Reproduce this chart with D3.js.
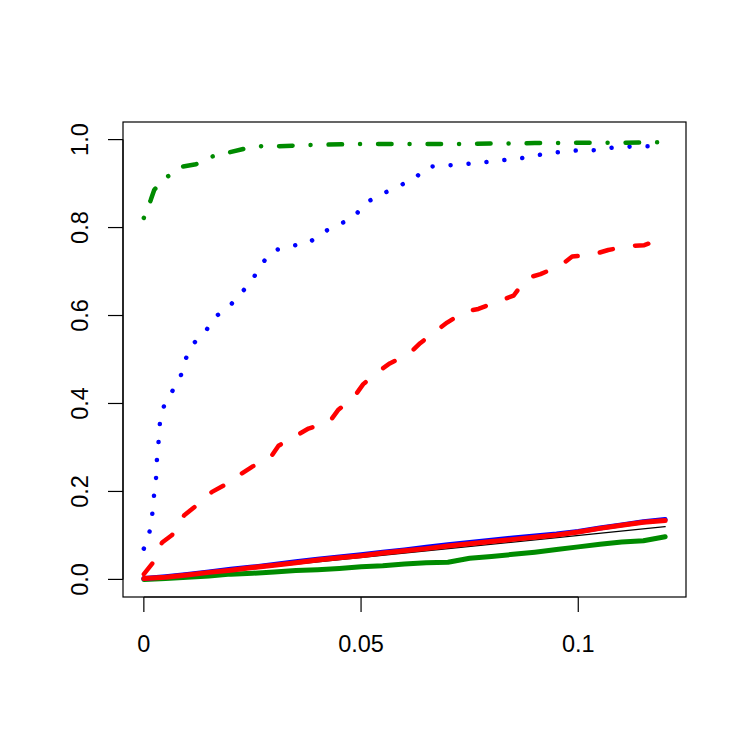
<!DOCTYPE html>
<meta charset="utf-8">
<title>power curves</title>
<style>
  body { margin: 0; background: #fff; }
  text { font-family: "Liberation Sans", Arial, sans-serif; font-size: 23.5px; fill: #000; }
</style>
<svg width="750" height="750"></svg>
<script src="https://cdn.jsdelivr.net/npm/d3@7"></script>
<script>
  // grid for the solid lines
  var xGrid = [0, 0.005, 0.01, 0.015, 0.02, 0.025, 0.03, 0.035, 0.04, 0.045, 0.05, 0.055, 0.06,
               0.065, 0.07, 0.075, 0.08, 0.085, 0.09, 0.095, 0.1, 0.105, 0.11, 0.115, 0.12];
  var blueSolid = [0.002, 0.006, 0.011, 0.017, 0.023, 0.028, 0.034, 0.040, 0.046, 0.051, 0.056, 0.062, 0.067,
                   0.073, 0.079, 0.084, 0.089, 0.094, 0.099, 0.103, 0.109, 0.117, 0.124, 0.131, 0.136];
  var redSolid  = [0.002, 0.005, 0.010, 0.016, 0.021, 0.027, 0.032, 0.038, 0.044, 0.049, 0.054, 0.060, 0.065,
                   0.070, 0.076, 0.081, 0.086, 0.091, 0.096, 0.101, 0.108, 0.116, 0.123, 0.130, 0.134];
  var greenSolid = [0, 0.002, 0.005, 0.008, 0.012, 0.014, 0.017, 0.020, 0.022, 0.025, 0.029, 0.031, 0.035,
                    0.038, 0.039, 0.048, 0.052, 0.057, 0.062, 0.068, 0.074, 0.080, 0.085, 0.088, 0.097];

  // broken lines, read point by point
  var blueDotX = [0, 0.0012, 0.0019, 0.0023, 0.0028, 0.003, 0.0034, 0.0037, 0.0047, 0.0066, 0.0085, 0.0096,
                  0.0114, 0.0142, 0.0164, 0.0195, 0.0223, 0.0248, 0.027, 0.0297, 0.0336, 0.0378, 0.041, 0.0447,
                  0.0483, 0.051, 0.0546, 0.0583, 0.0622, 0.0651, 0.0695, 0.0738, 0.078, 0.0824, 0.0865, 0.0909,
                  0.0951, 0.0994, 0.1036, 0.108, 0.1122, 0.1166, 0.12];
  var blueDotY = [0.07, 0.102, 0.144, 0.187, 0.229, 0.271, 0.314, 0.356, 0.397, 0.429, 0.463, 0.501,
                  0.536, 0.564, 0.597, 0.619, 0.65, 0.678, 0.716, 0.747, 0.758, 0.764, 0.788, 0.806,
                  0.823, 0.856, 0.875, 0.893, 0.91, 0.938, 0.941, 0.944, 0.948, 0.953, 0.957, 0.965,
                  0.971, 0.975, 0.976, 0.982, 0.984, 0.985, 0.99];
  var redDashX = [0, 0.002, 0.0042, 0.0065, 0.0093, 0.0116, 0.0157, 0.0183, 0.0224, 0.0249, 0.0292, 0.031,
                  0.0353, 0.0379, 0.0428, 0.0447, 0.0484, 0.0505, 0.0543, 0.0566, 0.0612, 0.0636, 0.0674,
                  0.0698, 0.074, 0.077, 0.0817, 0.0851, 0.0881, 0.0913, 0.0958, 0.0986, 0.1035, 0.1069,
                  0.1116, 0.1152, 0.1198, 0.12];
  var redDashY = [0.012, 0.037, 0.084, 0.101, 0.146, 0.164, 0.199, 0.213, 0.24, 0.256, 0.278, 0.304,
                  0.328, 0.343, 0.359, 0.385, 0.415, 0.444, 0.475, 0.491, 0.514, 0.537, 0.566,
                  0.584, 0.609, 0.615, 0.633, 0.645, 0.685, 0.694, 0.713, 0.734, 0.739, 0.749,
                  0.758, 0.76, 0.776, 0.783];
  var greenDashX = [0, 0.0016, 0.0024, 0.0052, 0.0085, 0.012, 0.0155, 0.0197, 0.023, 0.027, 0.031, 0.039,
                    0.05, 0.06, 0.07, 0.08, 0.09, 0.1, 0.11, 0.12];
  var greenDashY = [0.822, 0.863, 0.886, 0.914, 0.938, 0.944, 0.961, 0.971, 0.979, 0.985, 0.985, 0.988,
                    0.99, 0.99, 0.99, 0.991, 0.992, 0.993, 0.993, 0.994];

  var xTicks = [0, 0.05, 0.1];
  var xTickLabels = ["0", "0.05", "0.1"];
  var yTicks = [0, 0.2, 0.4, 0.6, 0.8, 1.0];
  var yTickLabels = ["0.0", "0.2", "0.4", "0.6", "0.8", "1.0"];

  //begin: layout conf.
  var svg = d3.select("svg"),
      box = {left: 123, right: 686, top: 122, bottom: 597},
      u = 4.5; // R line width unit used for dash patterns
  //end: layout conf.

  // R pads the data range by 4% on both sides
  var x = d3.scaleLinear().domain([-0.0048, 0.1248]).range([box.left, box.right]);
  var y = d3.scaleLinear().domain([-0.04, 1.04]).range([box.bottom, box.top]);

  function zip(xs, ys) { return xs.map(function(d, i) { return [d, ys[i]]; }); }

  var line = d3.line()
      .x(function(d) { return x(d[0]); })
      .y(function(d) { return y(d[1]); });

  var series = [
    {pts: [[0, 0], [0.12, 0.12]], color: "#000", width: 1.3, dash: null},
    {pts: zip(xGrid, greenSolid), color: "#008b00", width: 5, dash: null},
    {pts: zip(xGrid, blueSolid), color: "#0000ff", width: 5, dash: null},
    {pts: zip(xGrid, redSolid), color: "#ff0000", width: 5, dash: null},
    {pts: zip(blueDotX, blueDotY), color: "#0000ff", width: u, dash: [0.01, 4 * u]},
    {pts: zip(redDashX, redDashY), color: "#ff0000", width: u, dash: [3 * u, 5 * u]},
    {pts: zip(greenDashX, greenDashY), color: "#008b00", width: u, dash: [0.01, 4 * u, 3 * u, 4 * u]}
  ];

  svg.append("g")
    .selectAll("path")
    .data(series)
    .join("path")
      .attr("d", function(d) { return line(d.pts); })
      .attr("fill", "none")
      .attr("stroke", function(d) { return d.color; })
      .attr("stroke-width", function(d) { return d.width; })
      .attr("stroke-linecap", "round")
      .attr("stroke-linejoin", "round")
      .attr("stroke-dasharray", function(d) { return d.dash ? d.dash.join(" ") : null; });

  // plot box
  svg.append("rect")
    .attr("x", box.left).attr("y", box.top)
    .attr("width", box.right - box.left).attr("height", box.bottom - box.top)
    .attr("fill", "none").attr("stroke", "#000").attr("stroke-width", 1.2);

  // x axis, R style
  var xAxis = svg.append("g").attr("transform", "translate(0," + box.bottom + ")");
  xAxis.append("line")
    .attr("x1", x(xTicks[0])).attr("x2", x(xTicks[xTicks.length - 1]))
    .attr("stroke", "#000").attr("stroke-width", 1.2);
  xAxis.selectAll(".tick").data(xTicks).join("line")
    .attr("x1", x).attr("x2", x).attr("y1", 0).attr("y2", 15)
    .attr("stroke", "#000").attr("stroke-width", 1.2);
  xAxis.selectAll("text").data(xTicks).join("text")
    .attr("x", x).attr("y", 55)
    .attr("text-anchor", "middle")
    .text(function(d, i) { return xTickLabels[i]; });

  // y axis, labels parallel to the axis
  var yAxis = svg.append("g").attr("transform", "translate(" + box.left + ",0)");
  yAxis.append("line")
    .attr("y1", y(yTicks[0])).attr("y2", y(yTicks[yTicks.length - 1]))
    .attr("stroke", "#000").attr("stroke-width", 1.2);
  yAxis.selectAll(".tick").data(yTicks).join("line")
    .attr("y1", y).attr("y2", y).attr("x1", 0).attr("x2", -15)
    .attr("stroke", "#000").attr("stroke-width", 1.2);
  yAxis.selectAll("text").data(yTicks).join("text")
    .attr("transform", function(d) { return "translate(-35," + y(d) + ") rotate(-90)"; })
    .attr("text-anchor", "middle")
    .text(function(d, i) { return yTickLabels[i]; });
</script>
